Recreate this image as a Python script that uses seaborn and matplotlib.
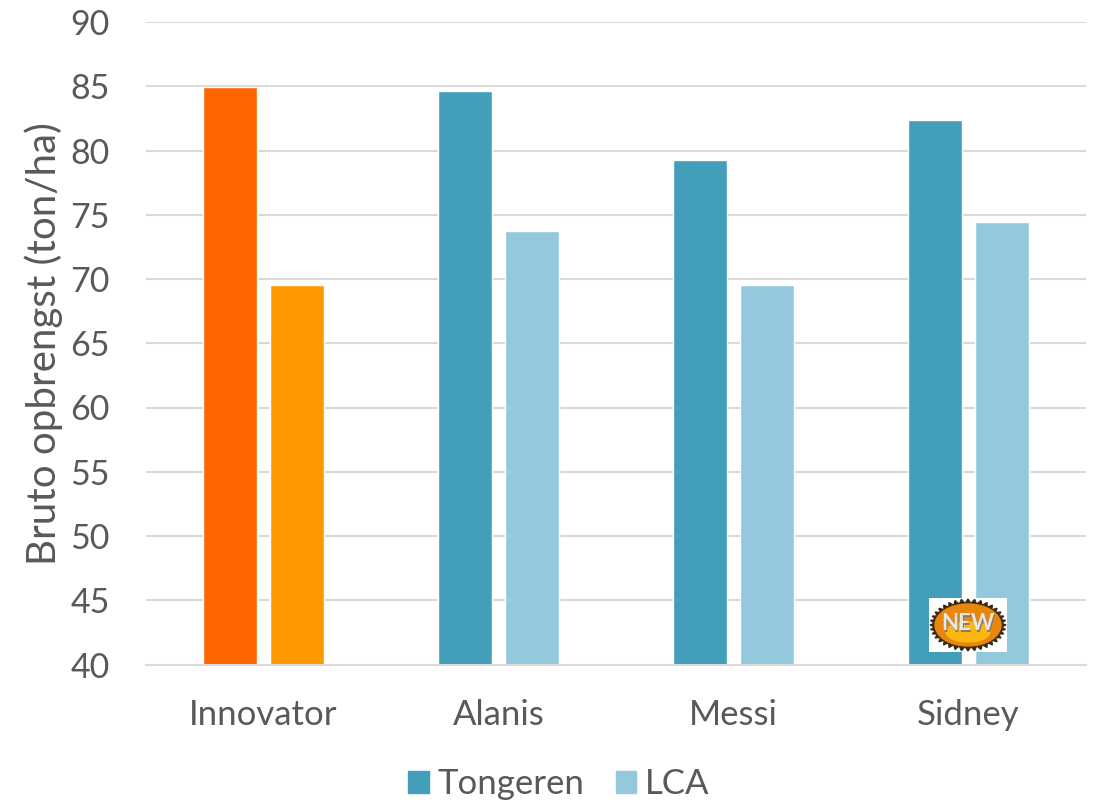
import numpy as np
import pandas as pd
import matplotlib
matplotlib.use('Agg')
import matplotlib.pyplot as plt
from matplotlib.patches import Rectangle, Ellipse, Polygon
import seaborn as sns

# values
rassen = ['Innovator', 'Alanis', 'Messi', 'Sidney']
tongeren = [84.95, 84.65, 79.25, 82.35]
lca = [69.5, 73.7, 69.5, 74.4]
yticks = list(range(40, 95, 5))

sns.set_theme(style='white')
plt.rcParams['font.family'] = ['Lato', 'DejaVu Sans']

df = pd.DataFrame({'ras': rassen * 2,
                   'waarde': tongeren + lca,
                   'proef': ['Tongeren'] * 4 + ['LCA'] * 4})

fig = plt.figure(figsize=(11.01, 8.07), dpi=100)
ax = fig.add_axes([146 / 1101, 1 - 664.5 / 807, (1086 - 146) / 1101, (664.5 - 22) / 807])

sns.barplot(data=df, x='ras', y='waarde', hue='proef', ax=ax,
            palette=['#439eb9', '#94c9dd'], saturation=1,
            gap=0.2, width=0.57, legend=False)

# Innovator is the standard, so it gets orange
ax.patches[0].set_facecolor('#ff6600')
ax.patches[4].set_facecolor('#ff9900')

ax.set_ylim(40, 90)
ax.set_xlim(-0.5, 3.5)
ax.set_yticks(yticks)
ax.set_xlabel('')
ax.set_ylabel('Bruto opbrengst (ton/ha)', fontsize=29, color='#595959', labelpad=5, y=0.5)
ax.tick_params(axis='y', labelsize=24.5, labelcolor='#595959', length=0, pad=26)
ax.tick_params(axis='x', labelsize=25, labelcolor='#595959', length=0, pad=25)
ax.grid(axis='y', color='#d9d9d9', linewidth=1.5)
ax.set_axisbelow(True)
sns.despine(ax=ax, left=True)
ax.spines['bottom'].set_color('#d9d9d9')
ax.spines['bottom'].set_linewidth(1.5)

handles = [Rectangle((0, 0), 1, 1, color='#439eb9'), Rectangle((0, 0), 1, 1, color='#94c9dd')]
fig.legend(handles, ['Tongeren', 'LCA'], loc='lower center', bbox_to_anchor=(0.5075, -0.03),
           ncol=2, frameon=False, fontsize=25, labelcolor='#595959',
           handlelength=0.6, handleheight=0.6, handletextpad=0.25, columnspacing=0.9)

# "NEW" sticker over the Sidney bars
sticker = fig.add_axes([929 / 1101, 1 - 652 / 807, 78 / 1101, 54 / 807])
sticker.set_xlim(-39, 39)
sticker.set_ylim(-27, 27)
sticker.axis('off')
sticker.add_patch(Rectangle((-39, -27), 78, 54, color='white'))
angles = np.deg2rad(np.arange(0, 360, 10))
for a in angles:
    tip = [38 * np.cos(a), 26 * np.sin(a)]
    left = [33 * np.cos(a - 0.1), 21 * np.sin(a - 0.1)]
    right = [33 * np.cos(a + 0.1), 21 * np.sin(a + 0.1)]
    sticker.add_patch(Polygon([tip, left, right], color='#3a2a10'))
sticker.add_patch(Ellipse((0, 0), 66, 42, color='#e8870e'))
sticker.add_patch(Ellipse((0, -7), 44, 20, color='#fbb612'))
sticker.text(0.5, 0, 'NEW', ha='center', va='center', fontsize=16, fontweight='bold',
             color='#8a7a66')
sticker.text(0, 1, 'NEW', ha='center', va='center', fontsize=16, fontweight='bold',
             color='#e6e6e6')

fig.savefig('out.png', dpi=100)
